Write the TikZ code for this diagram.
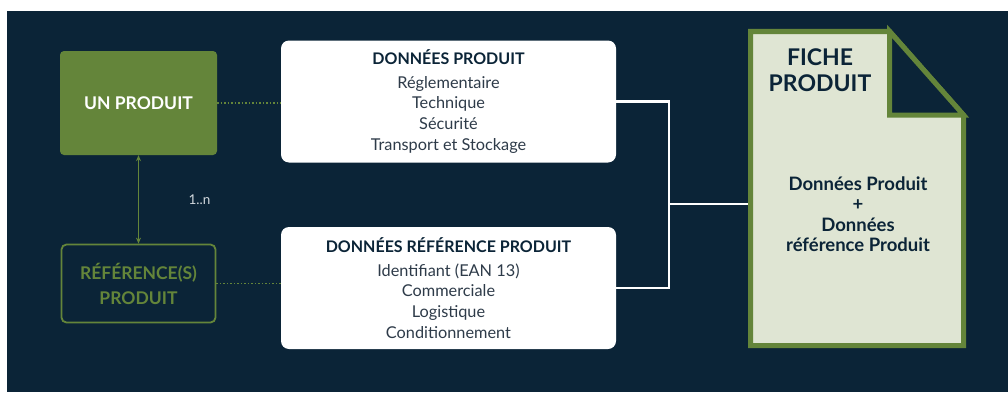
\documentclass[tikz,border=0pt]{standalone}
\usepackage{fontspec}
\setmainfont{Lato}
\usetikzlibrary{arrows.meta}

\definecolor{navy}{HTML}{0B2437}
\definecolor{leaf}{HTML}{64853A}
\definecolor{paper}{HTML}{DFE5D3}
\definecolor{ink}{HTML}{2E3B49}
\definecolor{mist}{HTML}{D3D9DE}

\begin{document}
\begin{tikzpicture}[x=1pt, y=1pt,
  greenbox/.style={fill=leaf, rounded corners=4pt, minimum width=157pt, minimum height=104pt,
    text=white, font=\bfseries\fontsize{17.5}{20}\selectfont},
  refbox/.style={draw=leaf, line width=1.8pt, fill=navy, rounded corners=5pt, minimum width=154pt,
    minimum height=78pt, text=leaf, align=center, font=\bfseries\fontsize{17.5}{25}\selectfont},
  databox/.style={fill=white, rounded corners=8pt, minimum width=335pt, minimum height=122pt,
    align=center, text=ink, font=\fontsize{16.3}{20.7}\selectfont},
  link/.style={white, line width=2.5pt},
  dots/.style={leaf, line width=1.5pt, dotted}]

\useasboundingbox (0,0) rectangle (1008,392);
\fill[navy] (7,0) rectangle (1008,381);

\coordinate (P) at (138.5, 289);
\coordinate (R) at (138.5, 108.5);
\coordinate (A) at (448.5, 290.5);
\coordinate (B) at (448.5, 104);
\coordinate (J) at (669, 188);
\coordinate (FW) at (748, 188);

\node[greenbox] (prod) at (P) {UN PRODUIT};
\node[refbox] (ref) at (R) {RÉFÉRENCE(S)\\PRODUIT};
\node[databox] (dp) at (A) {{\bfseries\color{navy}\fontsize{16}{20}\selectfont DONNÉES PRODUIT}\\[3pt]
  Réglementaire\\Technique\\Sécurité\\Transport et Stockage};
\node[databox] (drp) at (B) {{\bfseries\color{navy}\fontsize{16}{20}\selectfont DONNÉES RÉFÉRENCE PRODUIT}\\[3pt]
  Identifiant (EAN 13)\\Commerciale\\Logistique\\Conditionnement};

\draw[dots] (prod.east) -- (prod.east -| dp.west);
\draw[dots] (ref.east) -- (ref.east -| drp.west);
\draw[leaf, line width=1.5pt, {Stealth[length=6pt,width=5pt]}-{Stealth[length=6pt,width=5pt]}]
  (prod.south) -- (ref.north) node[midway, right=46pt, text=mist, font=\fontsize{13.5}{15}\selectfont] {1..n};

\draw[link] (dp.east) -| (J) |- (drp.east);
\draw[link] (J) -- (FW);

\filldraw[fill=paper, draw=leaf, line width=5pt, line join=miter]
  (750.5,46.5) -- (750.5,360.5) -- (889.7,360.5) -- (963.5,277) -- (963.5,46.5) -- cycle;
\filldraw[fill=navy, draw=leaf, line width=5pt, line join=miter]
  (889.7,360.5) -- (889.7,277) -- (963.5,277) -- cycle;

\node[text=navy, align=center, font=\bfseries\fontsize{23}{26.5}\selectfont] (title) at (820, 322) {FICHE\\PRODUIT};
\node[text=navy, align=center, font=\bfseries\fontsize{18.5}{20.5}\selectfont] (body) at (858, 178)
  {Données Produit\\+\\Données\\référence Produit};

\end{tikzpicture}
\end{document}
